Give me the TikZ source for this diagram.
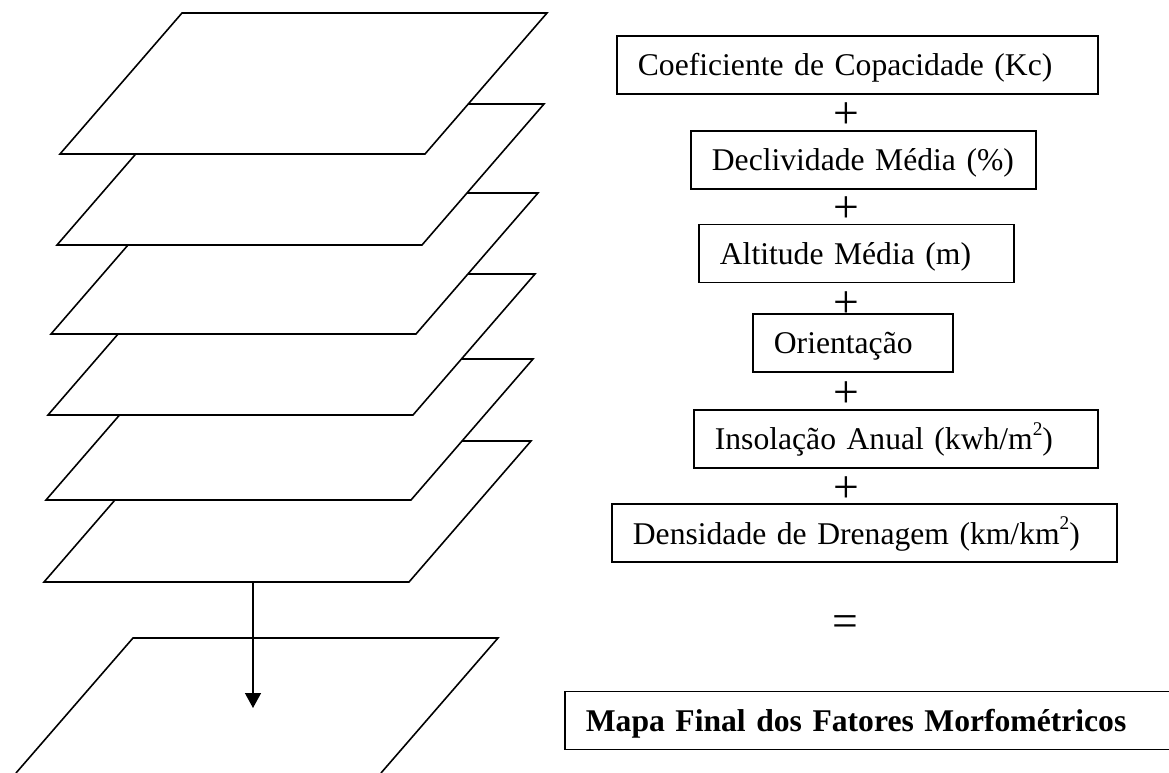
\documentclass[tikz,border=0pt]{standalone}
\usepackage{fontspec}
\setmainfont{Liberation Serif}
\usetikzlibrary{arrows.meta}

\newcommand{\sqr}{\raisebox{0.45em}{\fontsize{11}{11}\selectfont 2}}

\tikzset{
  fatorbox/.style={draw, line width=1pt, anchor=west, inner xsep=0.42cm,
    minimum height=1.16cm, align=left, text height=0.6cm, text depth=0.16cm},
  layer/.style={line width=0.9pt, fill=white},
  sign/.style={font=\fontsize{26}{26}\selectfont, inner sep=0pt}
}

\begin{document}
\begin{tikzpicture}[x=0.02cm,y=-0.02cm,>={Triangle[length=0.3cm,width=0.32cm]},
    font=\fontsize{18}{21.6}\selectfont]
        \useasboundingbox (0,0) rectangle (1169,773);

        % draw the stacked layers, lowest first
        \foreach \t/\r in {441/531, 359/533, 274/535, 193/538, 104/544, 13/547}
                \draw[layer] ({\r-365},\t) -- (\r,\t) -- ({\r-122},{\t+141}) -- ({\r-487},{\t+141}) -- cycle;

        % draw the final map, cut by the page
        \draw[line width=0.9pt] (16,773) -- (133,638) -- (498,638) -- (381,773);

        % draw the arrow
        \coordinate (stack) at (253,581);
        \coordinate (final) at (253,708);
        \draw[->, line width=0.8pt] (stack) -- (final);

        % draw the factors
        \node[fatorbox, text width=8.78cm] (kc) at (616,65) {\mbox{Coeficiente de Copacidade (Kc)}};
        \node[fatorbox, text width=6.06cm] (decl) at (690,160) {\mbox{Declividade Média (\%)}};
        \node[fatorbox, text width=5.46cm] (alt) at (698,253.5) {\mbox{Altitude Média (m)}};
        \node[fatorbox, text width=3.16cm] (ori) at (752,343) {\mbox{Orientação}};
        \node[fatorbox, text width=7.24cm] (inso) at (693,439) {\mbox{Insolação Anual (kwh/m\sqr)}};
        \node[fatorbox, text width=9.26cm] (dren) at (611,533) {\mbox{Densidade de Drenagem (km/km\sqr)}};

        % draw the signs
        \foreach \y/\name in {116/p1, 210/p2, 305/p3, 395/p4, 490/p5}
                \node[sign] (\name) at (846,\y) {+};
        \node[sign] (eq) at (845,626) {=};

        % draw the result
        \node[fatorbox, text width=11.26cm] (mapa) at (564,720.5) {\mbox{\bfseries Mapa Final dos Fatores Morfométricos}};

\end{tikzpicture}
\end{document}
